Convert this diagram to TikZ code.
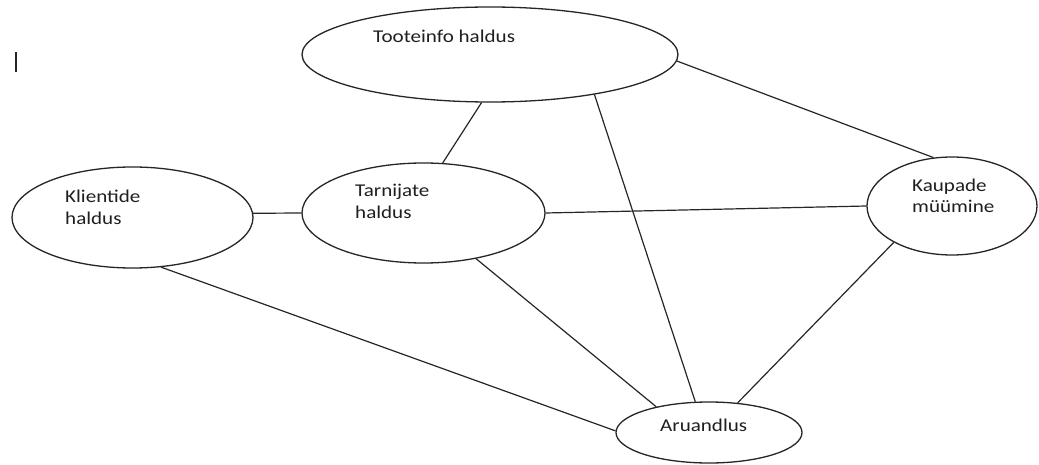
\documentclass[tikz,border=0pt]{standalone}
\usepackage{fontspec}
\setmainfont{Carlito}
\usepackage{graphicx}
\usetikzlibrary{shapes.geometric}
\definecolor{ink}{HTML}{262626}
\definecolor{textink}{HTML}{1F1F1F}
% labels are set slightly widened
\newcommand\widetext[1]{\scalebox{1.17}[1]{#1}}
\tikzset{
  proc/.style={draw=ink, line width=1.3pt, ellipse, inner sep=0pt},
  lbl/.style={anchor=base west, inner sep=0pt, text=textink, font=\fontsize{18}{22}\selectfont},
  link/.style={draw=ink, line width=1.2pt},
}
\begin{document}
\begin{tikzpicture}[x=1pt,y=-1pt]
\fill[white] (0,0) rectangle (1039,465);
\useasboundingbox (0,0) rectangle (1039,465);

% processes
\node[proc, minimum width=376pt, minimum height=95pt]  (tooteinfo) at (490,54.5)  {};
\node[proc, minimum width=241pt, minimum height=101pt] (klientide) at (132.5,217.5) {};
\node[proc, minimum width=243pt, minimum height=100pt] (tarnijate) at (423.5,213) {};
\node[proc, minimum width=170pt, minimum height=98pt]  (kaupade)   at (952,206)   {};
\node[proc, minimum width=186pt, minimum height=61pt]  (aruandlus) at (709,432.5) {};

% labels
\node[lbl] (tooteinfo text)   at (373,43)  {\widetext{Tooteinfo haldus}};
\node[lbl] (klientide text 1) at (65,203)  {\widetext{Klientide}};
\node[lbl] (klientide text 2) at (65,225)  {\widetext{haldus}};
\node[lbl] (tarnijate text 1) at (355,197) {\widetext{Tarnijate}};
\node[lbl] (tarnijate text 2) at (355,219) {\widetext{haldus}};
\node[lbl] (kaupade text 1)   at (912,192) {\widetext{Kaupade}};
\node[lbl] (kaupade text 2)   at (912,213) {\widetext{müümine}};
\node[lbl] (aruandlus text)   at (660,431) {\widetext{Aruandlus}};

% links between processes
\draw[link] (tooteinfo.260.4) -- (tarnijate.69.7);
\draw[link] (tooteinfo.339.6) -- (aruandlus.114.7);
\draw[link] (tooteinfo.358.3) -- (kaupade.111.1);
\draw[link] (klientide.2.1)   -- (tarnijate.180);
\draw[link] (tarnijate.0)     -- (kaupade.180.7);
\draw[link] (tarnijate.319.1) -- (aruandlus.154.8);
\draw[link] (klientide.300.8) -- (aruandlus.179.1);
\draw[link] (kaupade.212.1)   -- (aruandlus.46.4);

% text cursor mark
\coordinate (caret top) at (16,52);
\coordinate (caret bottom) at (16,72);
\draw[ink, line width=1.5pt] (caret top) -- (caret bottom);
\end{tikzpicture}
\end{document}
